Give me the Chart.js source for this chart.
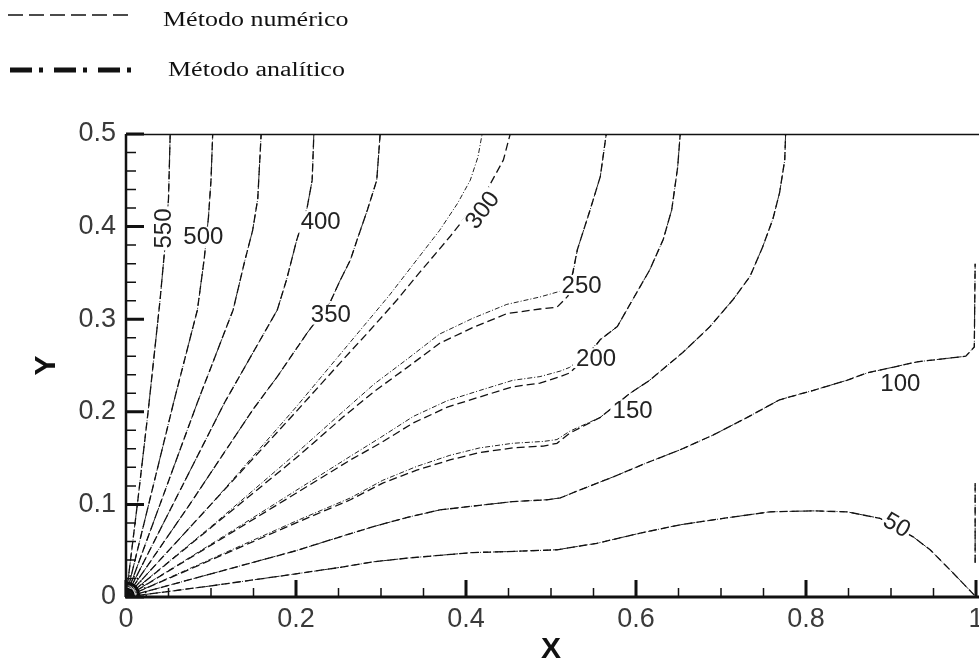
<!DOCTYPE html>
<html>
<head>
<meta charset="utf-8">
<title>Contornos</title>
<script src="https://cdn.jsdelivr.net/npm/chart.js@4/dist/chart.umd.min.js"></script>
<style>
  html, body { margin: 0; padding: 0; background: #fff; }
  canvas { display: block; }
</style>
</head>
<body>
<canvas id="contourChart" width="979" height="668"></canvas>
<script>
// Axis ticks
const xMajor = [0, 0.2, 0.4, 0.6, 0.8, 1];
const xMinor = [0.05, 0.1, 0.15, 0.25, 0.3, 0.35, 0.45, 0.5, 0.55, 0.65, 0.7, 0.75, 0.85, 0.9, 0.95];
const yMajor = [0, 0.1, 0.2, 0.3, 0.4, 0.5];
const yMinor = [0.02, 0.04, 0.06, 0.08, 0.12, 0.14, 0.16, 0.18, 0.22, 0.24, 0.26, 0.28,
                0.32, 0.34, 0.36, 0.38, 0.42, 0.44, 0.46, 0.48];

// Isolines, numerical method  [x, y]
const n550 = [[0, 0], [0.014, 0.105], [0.026, 0.2], [0.040, 0.32], [0.046, 0.38], [0.050, 0.43], [0.052, 0.5]];
const n500 = [[0, 0], [0.028, 0.105], [0.056, 0.21], [0.084, 0.31], [0.092, 0.365], [0.097, 0.41], [0.100, 0.45], [0.102, 0.5]];
const n450 = [[0, 0], [0.042, 0.105], [0.084, 0.21], [0.126, 0.31], [0.140, 0.364], [0.149, 0.396], [0.155, 0.43], [0.159, 0.5]];
const n400 = [[0, 0], [0.058, 0.105], [0.116, 0.21], [0.178, 0.31], [0.189, 0.343], [0.201, 0.386], [0.213, 0.42], [0.219, 0.45], [0.221, 0.5]];
const n350 = [[0, 0], [0.075, 0.1], [0.149, 0.202], [0.178, 0.238], [0.213, 0.285], [0.24, 0.318], [0.252, 0.342],
              [0.264, 0.364], [0.272, 0.386], [0.284, 0.418], [0.295, 0.45], [0.299, 0.5]];
const n300 = [[0, 0], [0.10, 0.10], [0.20, 0.20], [0.255, 0.256], [0.287, 0.288], [0.319, 0.321], [0.345, 0.35],
              [0.358, 0.364], [0.381, 0.389], [0.425, 0.44], [0.444, 0.472], [0.452, 0.5]];
const n250 = [[0, 0], [0.10, 0.075], [0.20, 0.15], [0.255, 0.194], [0.292, 0.222], [0.331, 0.248], [0.369, 0.274],
              [0.408, 0.291], [0.448, 0.306], [0.487, 0.311], [0.507, 0.313], [0.52, 0.325], [0.531, 0.375],
              [0.546, 0.418], [0.558, 0.454], [0.565, 0.5]];
const n200 = [[0, 0], [0.10, 0.056], [0.20, 0.112], [0.264, 0.148], [0.299, 0.166], [0.338, 0.188], [0.378, 0.205],
              [0.416, 0.216], [0.455, 0.227], [0.487, 0.231], [0.511, 0.238], [0.522, 0.242], [0.545, 0.262],
              [0.558, 0.278], [0.578, 0.292], [0.596, 0.321], [0.616, 0.353], [0.632, 0.386], [0.642, 0.418],
              [0.649, 0.464], [0.652, 0.5]];
const n150 = [[0, 0], [0.10, 0.04], [0.20, 0.08], [0.264, 0.105], [0.302, 0.123], [0.342, 0.137], [0.381, 0.148],
              [0.416, 0.156], [0.455, 0.161], [0.491, 0.163], [0.507, 0.166], [0.522, 0.177], [0.558, 0.194],
              [0.593, 0.22], [0.616, 0.234], [0.655, 0.264], [0.687, 0.292], [0.714, 0.321], [0.734, 0.346],
              [0.749, 0.378], [0.761, 0.408], [0.769, 0.437], [0.775, 0.472], [0.776, 0.5]];
const n100 = [[0, 0], [0.10, 0.025], [0.20, 0.05], [0.252, 0.065], [0.291, 0.076], [0.331, 0.086], [0.369, 0.094],
              [0.416, 0.099], [0.455, 0.103], [0.495, 0.105], [0.511, 0.107], [0.535, 0.116], [0.574, 0.13],
              [0.613, 0.145], [0.652, 0.159], [0.691, 0.175], [0.731, 0.194], [0.769, 0.213], [0.808, 0.223],
              [0.848, 0.234], [0.872, 0.242], [0.931, 0.254], [0.988, 0.26], [0.998, 0.27], [0.999, 0.36]];
const n50 = [[0, 0], [0.10, 0.012], [0.20, 0.025], [0.252, 0.032], [0.291, 0.038], [0.331, 0.042], [0.369, 0.045],
             [0.408, 0.048], [0.448, 0.049], [0.507, 0.051], [0.554, 0.058], [0.605, 0.069], [0.652, 0.078],
             [0.711, 0.086], [0.758, 0.092], [0.808, 0.093], [0.848, 0.092], [0.887, 0.085], [0.926, 0.065],
             [0.946, 0.051], [0.973, 0.026], [0.998, 0.002]];
const edge50 = [[0.999, 0.037], [0.999, 0.123]];

// Isolines, analytical method (where they separate from the numerical ones)
const a300 = [[0, 0], [0.10, 0.10], [0.20, 0.205], [0.25, 0.26], [0.28, 0.293], [0.31, 0.326], [0.342, 0.364],
              [0.369, 0.396], [0.39, 0.425], [0.405, 0.45], [0.414, 0.475], [0.419, 0.5]];
const a250 = [[0, 0], [0.10, 0.076], [0.20, 0.155], [0.255, 0.2], [0.292, 0.23], [0.331, 0.257], [0.369, 0.284],
              [0.408, 0.301], [0.448, 0.316], [0.487, 0.324], [0.51, 0.33], [0.525, 0.345], [0.531, 0.375],
              [0.546, 0.418], [0.558, 0.454], [0.565, 0.5]];
const a200 = [[0, 0], [0.10, 0.057], [0.20, 0.115], [0.264, 0.152], [0.299, 0.172], [0.338, 0.195], [0.378, 0.212],
              [0.416, 0.223], [0.455, 0.234], [0.487, 0.238], [0.511, 0.244], [0.522, 0.248], [0.545, 0.265],
              [0.558, 0.278], [0.578, 0.292], [0.596, 0.321], [0.616, 0.353], [0.632, 0.386], [0.642, 0.418],
              [0.649, 0.464], [0.652, 0.5]];
const a150 = [[0, 0], [0.10, 0.041], [0.20, 0.082], [0.264, 0.107], [0.302, 0.126], [0.342, 0.141], [0.381, 0.153],
              [0.416, 0.161], [0.455, 0.166], [0.491, 0.168], [0.507, 0.170], [0.522, 0.179], [0.558, 0.194],
              [0.593, 0.22], [0.616, 0.234], [0.655, 0.264], [0.687, 0.292], [0.714, 0.321], [0.734, 0.346],
              [0.749, 0.378], [0.761, 0.408], [0.769, 0.437], [0.775, 0.472], [0.776, 0.5]];

// Dense isolines around the heat source at the origin
const core1 = [[0.024, 0], [0.022, 0.010], [0.017, 0.017], [0.009, 0.022], [0, 0.023]];
const core2 = [[0.015, 0], [0.014, 0.006], [0.011, 0.011], [0.006, 0.014], [0, 0.015]];
const core3 = [[0.009, 0], [0.008, 0.004], [0.006, 0.007], [0.003, 0.008], [0, 0.009]];
const core4 = [[0.005, 0], [0.0045, 0.002], [0.0035, 0.0035], [0.002, 0.0045], [0, 0.005]];

// Isoline labels
const labelText = ['550', '500', '400', '350', '300', '250', '200', '150', '100', '50'];
const labelX = [0.0435, 0.091, 0.229, 0.241, 0.419, 0.536, 0.553, 0.596, 0.911, 0.907];
const labelY = [0.398, 0.389, 0.406, 0.305, 0.418, 0.337, 0.258, 0.201, 0.231, 0.078];
const labelRot = [-90, 0, 0, 0, -53, 0, 0, 0, 0, 30];

const numericSeries = [n550, n500, n450, n400, n350, n300, n250, n200, n150, n100, n50, edge50];
const analyticSeries = [n550, n500, n450, n400, n350, a300, a250, a200, a150, n100, n50, edge50];
const coreSeries = [core1, core2, core3, core4];

const toPoints = arr => arr.map(p => ({ x: p[0], y: p[1] }));

const datasets = [];
numericSeries.forEach(s => datasets.push({
    data: toPoints(s), showLine: true, pointRadius: 0, borderColor: '#111',
    borderWidth: 1.3, borderDash: [8, 4], tension: 0
}));
analyticSeries.forEach(s => datasets.push({
    data: toPoints(s), showLine: true, pointRadius: 0, borderColor: '#222',
    borderWidth: 1, borderDash: [5, 2, 1, 2], tension: 0
}));
coreSeries.forEach((s, i) => datasets.push({
    data: toPoints(s), showLine: true, pointRadius: 0, borderColor: '#000',
    borderWidth: i === 0 ? 1.5 : 3, borderDash: i === 0 ? [2, 2] : [], tension: 0.3
}));

const tickFont = { family: '"Liberation Sans", Arial, sans-serif', size: 27 };
const titleFont = { family: '"Liberation Sans", Arial, sans-serif', size: 30, weight: 'bold' };

// frame line at the top and inward tick marks
const frameTicks = {
    id: 'frameTicks',
    afterDatasetsDraw(chart) {
        const { ctx, chartArea: a, scales: { x, y } } = chart;
        ctx.save();
        ctx.strokeStyle = '#111';
        ctx.setLineDash([]);
        ctx.lineCap = 'butt';

        ctx.lineWidth = 1.5;
        ctx.beginPath();
        ctx.moveTo(a.left, a.top + 0.5);
        ctx.lineTo(chart.width, a.top + 0.5);
        ctx.stroke();

        ctx.lineWidth = 2.5;
        ctx.beginPath();
        ctx.moveTo(a.left, a.bottom);
        ctx.lineTo(a.left, a.top);
        ctx.stroke();

        ctx.lineWidth = 3;
        ctx.beginPath();
        ctx.moveTo(a.left - 1, a.bottom);
        ctx.lineTo(chart.width, a.bottom);
        ctx.stroke();

        const tick = (len, w, vals, horiz) => {
            ctx.lineWidth = w;
            ctx.beginPath();
            vals.forEach(v => {
                if (horiz) {
                    const px = x.getPixelForValue(v);
                    ctx.moveTo(px, a.bottom);
                    ctx.lineTo(px, a.bottom - len);
                } else {
                    const py = y.getPixelForValue(v);
                    ctx.moveTo(a.left, py);
                    ctx.lineTo(a.left + len, py);
                }
            });
            ctx.stroke();
        };
        tick(17, 3, xMajor, true);
        tick(9, 1.5, xMinor, true);
        tick(18, 3, yMajor, false);
        tick(10, 1.5, yMinor, false);
        ctx.restore();
    }
};

// isoline labels on a white patch
const contourLabels = {
    id: 'contourLabels',
    afterDatasetsDraw(chart) {
        const { ctx, scales: { x, y } } = chart;
        ctx.save();
        ctx.font = '24px "Liberation Sans", Arial, sans-serif';
        ctx.textAlign = 'center';
        ctx.textBaseline = 'middle';
        labelText.forEach((t, i) => {
            const px = x.getPixelForValue(labelX[i]);
            const py = y.getPixelForValue(labelY[i]);
            const w = ctx.measureText(t).width;
            ctx.save();
            ctx.translate(px, py);
            ctx.rotate(labelRot[i] * Math.PI / 180);
            ctx.fillStyle = '#fff';
            ctx.fillRect(-w / 2 - 2, -10, w + 4, 20);
            ctx.fillStyle = '#222';
            ctx.fillText(t, 0, 1);
            ctx.restore();
        });
        ctx.restore();
    }
};

// legend key drawn above the plot
const legendKey = {
    id: 'legendKey',
    afterDraw(chart) {
        const ctx = chart.ctx;
        ctx.save();
        ctx.strokeStyle = '#111';
        ctx.lineCap = 'butt';

        ctx.lineWidth = 1.4;
        ctx.setLineDash([15, 6]);
        ctx.beginPath();
        ctx.moveTo(8, 15);
        ctx.lineTo(130, 15);
        ctx.stroke();

        ctx.lineWidth = 5;
        ctx.setLineDash([22, 7, 4, 11]);
        ctx.beginPath();
        ctx.moveTo(10, 70);
        ctx.lineTo(135, 70);
        ctx.stroke();

        ctx.fillStyle = '#111';
        ctx.font = '20px "Liberation Serif", "Times New Roman", serif';
        ctx.textBaseline = 'alphabetic';
        [['Método numérico', 163, 26], ['Método analítico', 168, 76]].forEach(([t, tx, ty]) => {
            ctx.save();
            ctx.translate(tx, ty);
            ctx.scale(1.3, 1);
            ctx.fillText(t, 0, 0);
            ctx.restore();
        });
        ctx.restore();
    }
};

new Chart(document.getElementById('contourChart').getContext('2d'), {
    type: 'scatter',
    data: { datasets: datasets },
    options: {
        responsive: false,
        animation: false,
        layout: { padding: { top: 134, right: 3, left: 0, bottom: 0 } },
        plugins: {
            legend: { display: false },
            tooltip: { enabled: false }
        },
        scales: {
            x: {
                type: 'linear',
                min: 0,
                max: 1,
                afterBuildTicks: s => { s.ticks = xMajor.map(v => ({ value: v })); },
                afterFit: s => { s.height = 71; s.paddingLeft = 0; s.paddingRight = 0; },
                ticks: { font: tickFont, color: '#3a3a3a', padding: 6, maxRotation: 0, callback: v => String(v) },
                grid: { display: false, drawTicks: false },
                border: { display: false },
                title: { display: true, text: 'X', font: titleFont, color: '#111', padding: { top: 0, bottom: 0 } }
            },
            y: {
                type: 'linear',
                min: 0,
                max: 0.5,
                afterBuildTicks: s => { s.ticks = yMajor.map(v => ({ value: v })); },
                afterFit: s => { s.width = 126; },
                ticks: { font: tickFont, color: '#3a3a3a', padding: 10, callback: v => String(v) },
                grid: { display: false, drawTicks: false },
                border: { display: false },
                title: { display: true, text: 'Y', font: titleFont, color: '#111', padding: { top: 29, bottom: 0 } }
            }
        }
    },
    plugins: [frameTicks, contourLabels, legendKey]
});
</script>
</body>
</html>
